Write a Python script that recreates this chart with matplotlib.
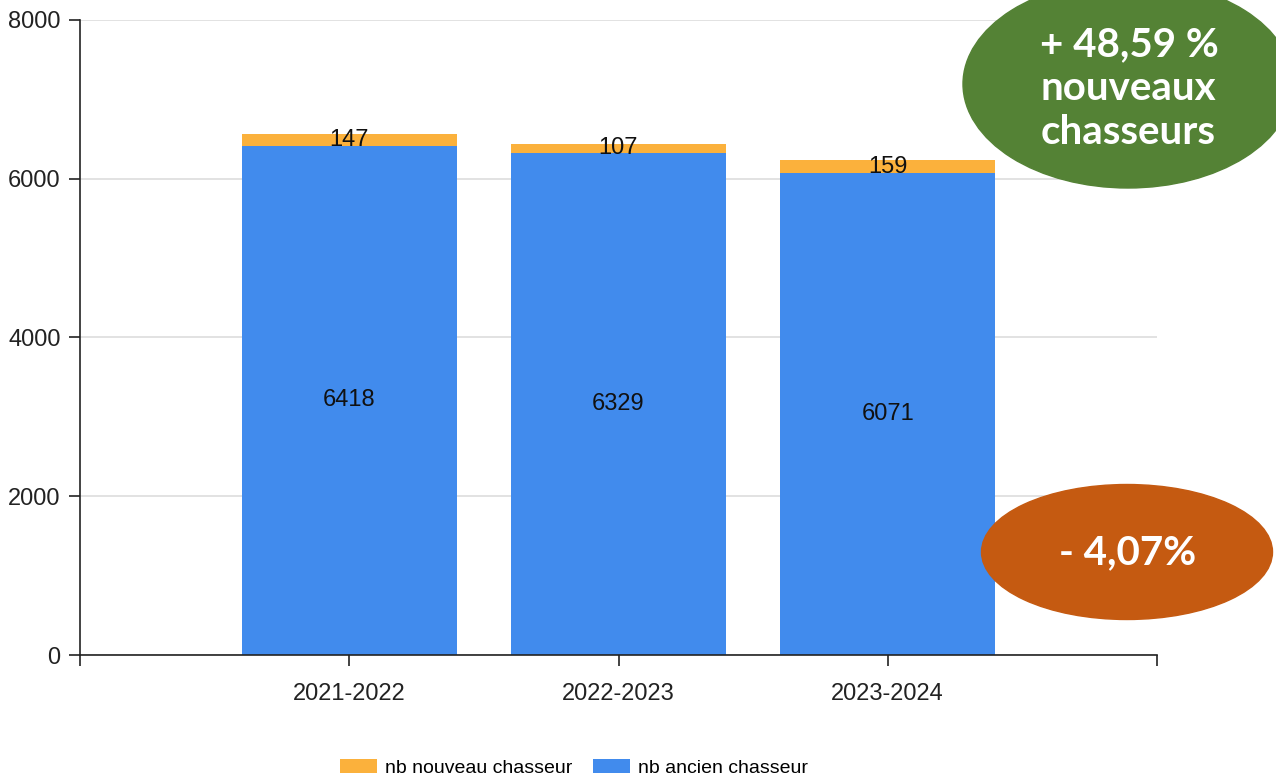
import numpy as np
import matplotlib.pyplot as plt
from matplotlib.patches import Ellipse

# data
saisons = ['2021-2022', '2022-2023', '2023-2024']
nb_ancien = [6418, 6329, 6071]
nb_nouveau = [147, 107, 159]

plt.rcParams['font.family'] = ['Liberation Sans Narrow', 'Liberation Sans', 'DejaVu Sans']

fig = plt.figure(figsize=(12.76, 7.81), dpi=100)
ax = fig.add_axes([80/1276, 1-655/781, (1157-80)/1276, (655-20)/781])

x = np.arange(1, len(saisons)+1)
b1 = ax.bar(x, nb_ancien, width=0.8, color='#418BED', label='nb ancien chasseur', zorder=2)
b2 = ax.bar(x, nb_nouveau, width=0.8, bottom=nb_ancien, color='#FBB13C', label='nb nouveau chasseur', zorder=2)
ax.bar_label(b1, label_type='center', fontsize=17, color='#111111')
ax.bar_label(b2, label_type='center', fontsize=17, color='#111111')

ax.set_xlim(0, 4)
ax.set_ylim(0, 8000)
ax.set_yticks([0, 2000, 4000, 6000, 8000])
ax.set_xticks([0, 1, 2, 3, 4])
ax.set_xticklabels([''] + saisons + [''])
ax.tick_params(axis='both', labelsize=17, colors='#222222', length=8, width=1.2, direction='out')
ax.tick_params(axis='x', pad=12)
ax.tick_params(axis='y', pad=6)
ax.grid(axis='y', color='#DDDDDD', linewidth=1.2, zorder=0)
ax.spines['top'].set_visible(False)
ax.spines['right'].set_visible(False)
for s in ('left', 'bottom'):
    ax.spines[s].set_color('#222222')
    ax.spines[s].set_linewidth(1.2)

handles = [b2, b1]
fig.legend(handles, [h.get_label() for h in handles], loc='center', bbox_to_anchor=(574/1276, 1-768/781),
           ncol=2, frameon=False, fontsize=14, handlelength=1.9, handleheight=0.7,
           handletextpad=0.4, columnspacing=1.1)

# bulles d'annotation (pixels de la figure -> pouces)
tr = fig.dpi_scale_trans
green = Ellipse((1128/100, (781-84)/100), 330/100, 208/100, color='#548235', transform=tr)
orange = Ellipse((1127/100, (781-552)/100), 291/100, 135/100, color='#C55A11', transform=tr)
fig.add_artist(green)
fig.add_artist(orange)
bubble_font = dict(family=['Lato', 'DejaVu Sans'], fontweight='bold', color='white', fontsize=29,
                   ha='center', va='center', transform=tr)
fig.text(1129/100, (781-45)/100, '+ 48,59 %', **bubble_font)
fig.text(1128/100, (781-88)/100, 'nouveaux', **bubble_font)
fig.text(1128/100, (781-132)/100, 'chasseurs', **bubble_font)
fig.text(1128/100, (781-553)/100, '- 4,07%', **bubble_font)

fig.savefig('out.png', dpi=100)
